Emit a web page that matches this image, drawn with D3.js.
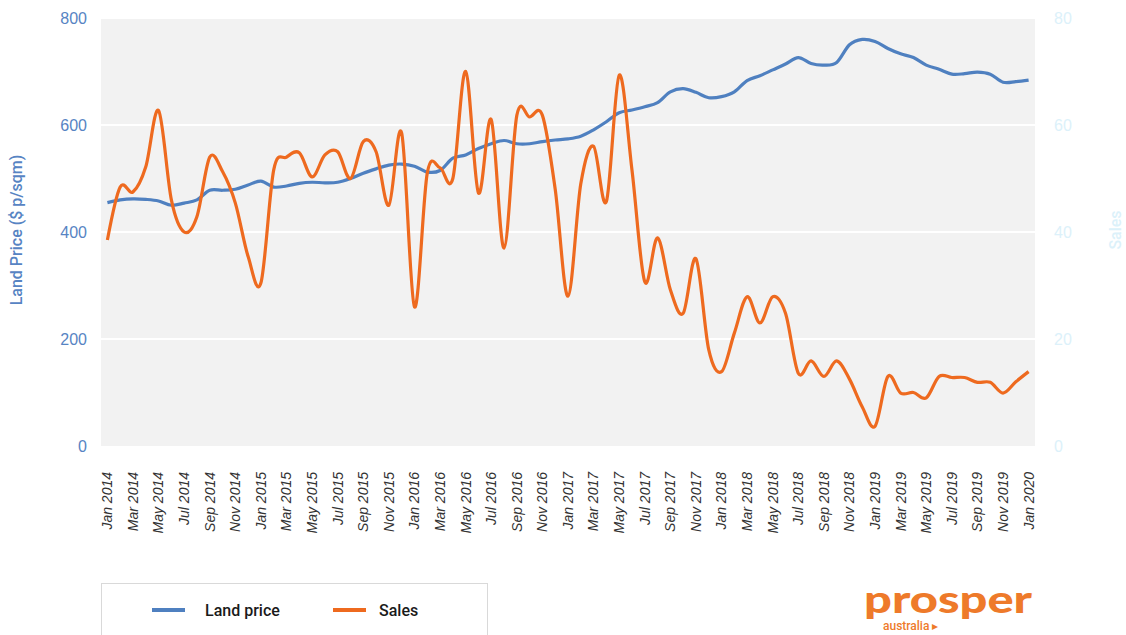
<!DOCTYPE html>
<html>
<head>
<meta charset="utf-8">
<script src="https://cdn.jsdelivr.net/npm/d3@7"></script>
<style>
  body { margin: 0; background: #fff; }
  svg { display: block; font-family: Roboto, "Open Sans", sans-serif; }
</style>
</head>
<body>
<svg id="plot" width="1126" height="635"></svg>
<script>
// monthly, Jan 2014 .. Jan 2020
const months = d3.timeMonth.range(new Date(2014, 0, 1), new Date(2020, 1, 1));

const landPrice = [455, 460, 462, 461, 458, 450, 454, 460, 478, 478, 480, 488,
                   495, 484, 486, 491, 493, 492, 493, 500, 510, 518, 525, 527,
                   523, 512, 515, 538, 544, 556, 565, 571, 565, 565, 569, 572,
                   574, 579, 591, 606, 623, 628, 634, 642, 662, 668, 661, 651,
                   653, 662, 683, 692, 703, 714, 726, 715, 712, 717, 750, 760,
                   756, 743, 733, 726, 712, 704, 695, 696, 699, 695, 680, 681,
                   684];

const sales = [38.5, 48.4, 47.5, 52.2, 62.7, 46, 40, 42.9, 54, 51.3, 45.4, 35.4,
               30.5, 51.6, 54, 54.8, 50.3, 54.4, 55, 50, 56.9, 55, 45, 58.5,
               26, 51, 52, 50, 70, 47.3, 61, 37, 61.8, 61.5, 61.8, 48,
               28, 49, 56, 45.7, 69.3, 51.6, 30.7, 38.9, 29.2, 24.8, 35, 18,
               13.9, 21.1, 27.9, 23, 27.9, 24.8, 13.6, 15.9, 13, 15.9, 12.5, 7.3,
               3.7, 13, 9.9, 10, 9, 13, 12.8, 12.8, 11.9, 11.9, 9.9, 12,
               13.9];

const leftTicks = [0, 200, 400, 600, 800];
const rightTicks = [0, 20, 40, 60, 80];

const plot = d3.select('#plot');

const plotLeft = 101, plotRight = 1035, plotTop = 18, plotBottom = 446;

const xScale = d3.scaleBand()
            .domain(months)
            .range([plotLeft, plotRight]);

const xMid = d => xScale(d) + xScale.bandwidth() / 2;

const yScale = d3.scaleLinear()
            .domain([0, 800])
            .range([plotBottom, plotTop]);

const y2Scale = d3.scaleLinear()
            .domain([0, 80])
            .range([plotBottom, plotTop]);

// plot background
plot.append('rect')
    .attr('x', plotLeft)
    .attr('y', plotTop + 1)
    .attr('width', plotRight - plotLeft)
    .attr('height', plotBottom - plotTop - 1)
    .attr('fill', '#f2f2f2');

// gridlines
plot.append('g')
    .selectAll('line')
    .data(leftTicks.slice(1, -1))
    .join('line')
    .attr('x1', plotLeft)
    .attr('x2', plotRight)
    .attr('y1', d => yScale(d))
    .attr('y2', d => yScale(d))
    .attr('stroke', '#fff')
    .attr('stroke-width', 2);

const yAxis = d3.axisLeft(yScale)
        .tickValues(leftTicks)
        .tickSize(0)
        .tickPadding(0);

plot.append('g')
    .classed('yAxis', true)
    .attr('transform', `translate(87, 0)`)
    .call(yAxis)
    .call(g => g.select('.domain').remove());

plot.selectAll('.yAxis text')
    .attr('fill', '#5784c3')
    .style('font-size', '16px')
    .style('font-weight', '500')
    .attr('dy', '0.36em');

const y2Axis = d3.axisRight(y2Scale)
        .tickValues(rightTicks)
        .tickSize(0)
        .tickPadding(0);

plot.append('g')
    .classed('y2Axis', true)
    .attr('transform', `translate(1054, 0)`)
    .call(y2Axis)
    .call(g => g.select('.domain').remove());

plot.selectAll('.y2Axis text')
    .attr('fill', '#dcf1fa')
    .style('font-size', '16px')
    .style('font-weight', '500')
    .attr('dy', '0.36em');

const xAxis = d3.axisBottom(xScale)
        .tickValues(months.filter((d, i) => i % 2 === 0))
        .tickFormat(d3.timeFormat('%b %Y'))
        .tickSize(0)
        .tickPadding(0);

plot.append('g')
    .classed('xAxis', true)
    .attr('transform', `translate(0, 472)`)
    .call(xAxis)
    .call(g => g.select('.domain').remove());

plot.selectAll('.xAxis text')
    .attr('text-anchor', 'end')
    .attr('transform', 'rotate(-90)')
    .attr('x', 0)
    .attr('y', 0)
    .attr('dy', '0.35em')
    .attr('fill', '#333')
    .style('font-size', '14px')
    .style('font-style', 'italic');

// axis titles
plot.append('text')
    .attr('transform', `translate(22, 230) rotate(-90)`)
    .attr('text-anchor', 'middle')
    .attr('fill', '#5784c3')
    .style('font-size', '16px')
    .style('font-weight', '500')
    .text('Land Price ($ p/sqm)');

plot.append('text')
    .attr('transform', `translate(1121, 230) rotate(-90)`)
    .attr('text-anchor', 'middle')
    .attr('fill', '#dcf1fa')
    .style('font-size', '16px')
    .style('font-weight', '500')
    .text('Sales');

const priceLine = d3.line()
        .x((d, i) => xMid(months[i]))
        .y(d => yScale(d))
        .curve(d3.curveCardinal.tension(0));

const salesLine = d3.line()
        .x((d, i) => xMid(months[i]))
        .y(d => y2Scale(d))
        .curve(d3.curveCardinal.tension(0));

plot.append('path')
    .attr('d', priceLine(landPrice))
    .attr('stroke', '#4f80c0')
    .attr('stroke-width', 3.2)
    .attr('fill', 'none');

plot.append('path')
    .attr('d', salesLine(sales))
    .attr('stroke', '#ee6a1f')
    .attr('stroke-width', 3.2)
    .attr('fill', 'none');

// legend
const legend = plot.append('g');

legend.append('rect')
    .attr('x', 101.5)
    .attr('y', 583.5)
    .attr('width', 386)
    .attr('height', 70)
    .attr('fill', '#fff')
    .attr('stroke', '#d9d9d9');

const legendItems = [
  { name: 'Land price', color: '#4f80c0', x: 152 },
  { name: 'Sales', color: '#ee6a1f', x: 333 }
];

legend.selectAll('line')
    .data(legendItems)
    .join('line')
    .attr('x1', d => d.x)
    .attr('x2', d => d.x + 33)
    .attr('y1', 610)
    .attr('y2', 610)
    .attr('stroke', d => d.color)
    .attr('stroke-width', 4);

legend.selectAll('text')
    .data(legendItems)
    .join('text')
    .attr('x', d => d.x + (d.name === 'Sales' ? 46 : 53))
    .attr('y', 616)
    .attr('fill', '#1a1a1a')
    .style('font-size', '16px')
    .style('font-weight', '500')
    .text(d => d.name);

// logo, one text block with two lines
const logo = plot.append('text')
    .attr('fill', '#ee7a2a');

logo.append('tspan')
    .attr('x', 864)
    .attr('y', 613)
    .style('font-family', 'Lato, sans-serif')
    .style('font-size', '38px')
    .style('font-weight', '900')
    .attr('textLength', 168)
    .attr('lengthAdjust', 'spacingAndGlyphs')
    .text('prosper');

logo.append('tspan')
    .attr('x', 883)
    .attr('y', 630)
    .style('font-size', '12px')
    .style('font-weight', '500')
    .text('australia \u25B8');
</script>
</body>
</html>
